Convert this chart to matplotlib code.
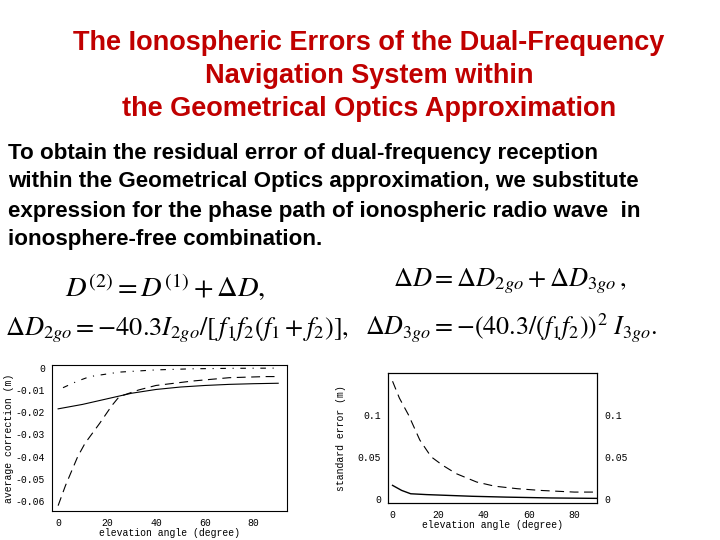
import matplotlib
matplotlib.use("Agg")
import matplotlib.pyplot as plt

# left panel: average correction (m)
left_x_solid = [0, 10, 20, 30, 40, 50, 60, 70, 80, 90]
left_y_solid = [-0.0185, -0.0165, -0.014, -0.0115, -0.0098, -0.0087, -0.008, -0.0075, -0.0072, -0.007]
left_x_dash = [0, 3, 8, 11, 17, 22, 25, 33, 40, 55, 70, 85, 90]
left_y_dash = [-0.062, -0.053, -0.040, -0.034, -0.025, -0.017, -0.013, -0.010, -0.008, -0.006, -0.0045, -0.004, -0.004]
left_x_dd = [2, 8, 13, 25, 40, 55, 70, 90]
left_y_dd = [-0.009, -0.006, -0.004, -0.002, -0.001, -0.0005, -0.0003, -0.0002]

# right panel: standard error (m)
right_x_dash = [0, 3, 7, 12, 17, 22, 28, 37, 45, 55, 65, 80, 90]
right_y_dash = [0.14, 0.12, 0.10, 0.07, 0.05, 0.04, 0.03, 0.02, 0.015, 0.012, 0.010, 0.008, 0.008]
right_x_solid = [0, 4, 8, 15, 25, 35, 50, 70, 90]
right_y_solid = [0.016, 0.010, 0.006, 0.005, 0.004, 0.003, 0.002, 0.001, 0.0005]

plt.rcParams["mathtext.fontset"] = "stix"
fig = plt.figure(figsize=(7.2, 5.4), dpi=100)

title = ["The Ionospheric Errors of the Dual-Frequency",
         "Navigation System within",
         "the Geometrical Optics Approximation"]
for i, line in enumerate(title):
    fig.text(369 / 720, 1 - (43 + 33 * i) / 540, line, ha="center", va="center",
             fontsize=19.5, fontweight="bold", color="#C00000", family="Liberation Sans")

body = ["To obtain the residual error of dual-frequency reception",
        "within the Geometrical Optics approximation, we substitute",
        "expression for the phase path of ionospheric radio wave  in",
        "ionosphere-free combination."]
for i, line in enumerate(body):
    fig.text(8 / 720, 1 - (153 + 29 * i) / 540, line, ha="left", va="center",
             fontsize=16.1, fontweight="bold", color="black", family="Liberation Sans")

fig.text(65 / 720, 1 - 287 / 540, r"$D^{(2)} = D^{(1)} + \Delta D,$", fontsize=20.5, va="center")
fig.text(393 / 720, 1 - 281 / 540, r"$\Delta D = \Delta D_{2go} + \Delta D_{3go}\,,$", fontsize=19, va="center")
fig.text(5 / 720, 1 - 330 / 540,
         r"$\Delta D_{2go} = -40.3 I_{2go} / \left[\,f_1 f_2 \left(f_1 + f_2\right)\right],$",
         fontsize=19, va="center")
fig.text(365 / 720, 1 - 328 / 540,
         r"$\Delta D_{3go} = -\left(40.3 / \left(f_1 f_2\right)\right)^2\ I_{3go}.$",
         fontsize=18.7, va="center")

mono = "Liberation Mono"
tick_font = dict(family=mono, fontsize=7)

ax1 = fig.add_axes([52 / 720, 1 - 511 / 540, 235 / 720, 146 / 540])
ax1.plot(left_x_solid, left_y_solid, color="black", lw=0.8)
ax1.plot(left_x_dash, left_y_dash, color="black", lw=0.8, dashes=(8, 5))
ax1.plot(left_x_dd, left_y_dd, color="black", lw=0.8, dashes=(5, 6, 1, 6))
ax1.set_xlim(-2.5, 93.6)
ax1.set_ylim(-0.0644, 0.0012)
ax1.set_xticks([0, 20, 40, 60, 80])
ax1.set_yticks([0, -0.01, -0.02, -0.03, -0.04, -0.05, -0.06])
ax1.set_yticklabels(["0", "-0.01", "-0.02", "-0.03", "-0.04", "-0.05", "-0.06"])
ax1.set_xlabel("elevation angle (degree)", labelpad=0, **tick_font)
ax1.set_ylabel("average correction (m)", labelpad=1, **tick_font)

ax2 = fig.add_axes([388 / 720, 1 - 503 / 540, 209 / 720, 130 / 540])
ax2.plot(right_x_dash, right_y_dash, color="black", lw=0.8, dashes=(8, 5))
ax2.plot(right_x_solid, right_y_solid, color="black", lw=1.0)
ax2.set_xlim(-2, 90)
ax2.set_ylim(-0.005, 0.1498)
ax2.set_xticks([0, 20, 40, 60, 80])
ax2.set_yticks([0, 0.05, 0.1])
ax2.set_yticklabels(["0", "0.05", "0.1"])
ax2.set_xlabel("elevation angle (degree)", labelpad=0, **tick_font)
ax2.set_ylabel("standard error (m)", labelpad=8, **tick_font)
ax2r = ax2.twinx()
ax2r.set_ylim(ax2.get_ylim())
ax2r.set_yticks([0, 0.05, 0.1])
ax2r.set_yticklabels(["0", "0.05", "0.1"])

for ax in (ax1, ax2, ax2r):
    ax.tick_params(length=0, labelsize=7, pad=5)
    for lab in ax.get_xticklabels() + ax.get_yticklabels():
        lab.set_family(mono)
    for s in ax.spines.values():
        s.set_linewidth(0.8)

fig.savefig("out.png", dpi=100)
